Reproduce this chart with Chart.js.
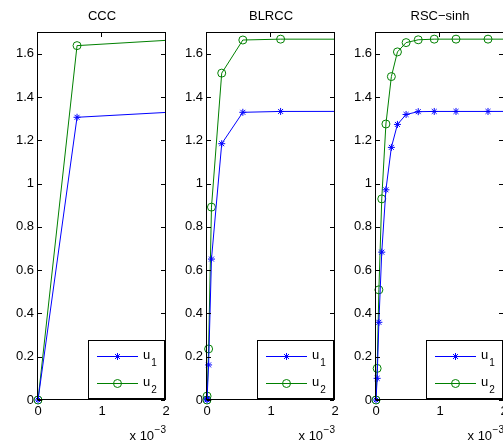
<!DOCTYPE html>
<html><head><meta charset="utf-8">
<script src="https://cdn.jsdelivr.net/npm/chart.js@4/dist/chart.umd.min.js"></script>
<style>
html,body{margin:0;padding:0;background:#fff;overflow:hidden;width:503px;height:446px;}
canvas{position:absolute;top:0;}
</style></head><body>
<canvas id="c0" width="180" height="446" style="left:0px"></canvas>
<canvas id="c1" width="180" height="446" style="left:169px"></canvas>
<canvas id="c2" width="180" height="446" style="left:338px"></canvas>
<script>
// ---- data ----
const titles = ['CCC', 'BLRCC', 'RSC\u2212sinh'];

const cccT  = [0, 0.00061, 0.0023];
const cccU1 = [0, 1.306, 1.3333];
const cccU2 = [0, 1.637, 1.6667];

const blrccT  = [0, 0.000001, 0.000025, 0.00007, 0.00023, 0.00056, 0.00115, 0.0023];
const blrccU1 = [0, 0.005, 0.162, 0.651, 1.184, 1.329, 1.333, 1.3333];
const blrccU2 = [0, 0.018, 0.236, 0.891, 1.51, 1.663, 1.667, 1.6667];

const sinhT  = [0, 0.000018, 0.000045, 0.00009, 0.000155, 0.00024, 0.000335, 0.00047, 0.00066, 0.00091, 0.00125, 0.00175, 0.0024];
const sinhU1 = [0, 0.10, 0.359, 0.683, 0.971, 1.167, 1.273, 1.319, 1.332, 1.333, 1.333, 1.333, 1.3333];
const sinhU2 = [0, 0.146, 0.509, 0.929, 1.275, 1.494, 1.608, 1.651, 1.664, 1.667, 1.667, 1.667, 1.6667];

const xTicks = [0, 0.001, 0.002];
const xTickLabels = ['0', '1', '2'];
const yTicks = [0, 0.2, 0.4, 0.6, 0.8, 1, 1.2, 1.4, 1.6];
const yTickLabels = ['0', '0.2', '0.4', '0.6', '0.8', '1', '1.2', '1.4', '1.6'];
const xExponentBase = 'x 10';
const xExponent = '\u22123';
const legendNames = ['u', 'u'];
const legendSubs = ['1', '2'];

const FONT = '"Liberation Sans", Arial, Helvetica, sans-serif';
const FS = 13;
const BLUE = '#0000ff', GREEN = '#008000';
const styles = [
  {color: BLUE, pointStyle: 'star', radius: 3.5},
  {color: GREEN, pointStyle: 'circle', radius: 4}
];

const frame = {
  id: 'frame',
  afterDatasetsDraw(chart) {
    const {ctx, chartArea: a, scales: {x, y}} = chart;
    const title = chart.options.plugins.frame.title;
    ctx.save();
    ctx.strokeStyle = '#000';
    ctx.lineWidth = 1;
    ctx.strokeRect(a.left - 0.5, a.top + 0.5, a.right - a.left, a.bottom - a.top - 1);
    ctx.beginPath();
    yTicks.forEach(v => {
      const py = Math.round(y.getPixelForValue(v)) + 0.5;
      ctx.moveTo(a.left, py); ctx.lineTo(a.left + 4, py);
      ctx.moveTo(a.right - 1, py); ctx.lineTo(a.right - 5, py);
    });
    xTicks.forEach(v => {
      const px = Math.round(x.getPixelForValue(v)) - 0.5;
      ctx.moveTo(px, a.bottom - 1); ctx.lineTo(px, a.bottom - 5);
      ctx.moveTo(px, a.top + 1); ctx.lineTo(px, a.top + 5);
    });
    ctx.stroke();

    // legend
    const bx0 = a.right - 78, bx1 = a.right - 2, by0 = a.bottom - 60, by1 = a.bottom - 2;
    ctx.fillStyle = '#fff';
    ctx.fillRect(bx0, by0, bx1 - bx0, by1 - by0);
    ctx.strokeStyle = '#000';
    ctx.strokeRect(bx0 + 0.5, by0 + 0.5, bx1 - bx0, by1 - by0);
    for (let i = 0; i < 2; i++) {
      const st = styles[i];
      const yy = Math.round(by0 + 16 + i * 26.5) + 0.5;
      ctx.strokeStyle = st.color;
      ctx.lineWidth = 1;
      ctx.beginPath(); ctx.moveTo(bx0 + 9, yy); ctx.lineTo(bx0 + 50, yy); ctx.stroke();
      ctx.fillStyle = 'rgba(0,0,0,0)';
      Chart.helpers.drawPoint(ctx, {pointStyle: st.pointStyle, radius: st.radius, borderWidth: 1, rotation: 0}, bx0 + 29.5, yy);
      ctx.fillStyle = '#000';
      ctx.textAlign = 'left';
      ctx.textBaseline = 'alphabetic';
      ctx.font = FS + 'px ' + FONT;
      ctx.fillText(legendNames[i], bx0 + 55, yy + 2.5);
      const w = ctx.measureText(legendNames[i]).width;
      ctx.font = '10px ' + FONT;
      ctx.fillText(legendSubs[i], bx0 + 55 + w + 1, yy + 9);
    }

    // title
    ctx.fillStyle = '#000';
    ctx.font = FS + 'px ' + FONT;
    ctx.textAlign = 'center';
    ctx.textBaseline = 'middle';
    ctx.fillText(title, (a.left + a.right) / 2, 16.5);

    // exponent label
    ctx.textAlign = 'right';
    ctx.textBaseline = 'alphabetic';
    ctx.font = '10px ' + FONT;
    ctx.fillText(xExponent, a.right, 433);
    const ew = ctx.measureText(xExponent).width;
    ctx.font = FS + 'px ' + FONT;
    ctx.fillText(xExponentBase, a.right - ew - 0.5, 440);
    ctx.restore();
  }
};

function makeChart(id, title, t, u1, u2) {
  const series = [u1, u2];
  new Chart(document.getElementById(id), {
    type: 'scatter',
    data: {
      datasets: series.map((s, k) => ({
        label: legendNames[k] + legendSubs[k],
        data: t.map((v, i) => ({x: v, y: s[i]})),
        showLine: true,
        borderColor: styles[k].color,
        borderWidth: 1,
        pointStyle: styles[k].pointStyle,
        pointRadius: styles[k].radius,
        pointBorderWidth: 1,
        pointBorderColor: styles[k].color,
        pointBackgroundColor: 'rgba(0,0,0,0)',
        tension: 0,
        clip: {left: 6, top: 0, right: 0, bottom: 6}
      }))
    },
    options: {
      responsive: false,
      animation: false,
      devicePixelRatio: 1,
      events: [],
      layout: {padding: {left: 0, right: 14, top: 32, bottom: 0}},
      plugins: {legend: {display: false}, tooltip: {enabled: false}, title: {display: false}, frame: {title: title}},
      scales: {
        x: {
          type: 'linear', min: 0, max: 0.002,
          afterBuildTicks: s => { s.ticks = xTicks.map(v => ({value: v})); },
          afterFit: s => { s.height = 46; },
          grid: {display: false, drawTicks: false},
          border: {display: false},
          ticks: {padding: 4, color: '#000', font: {family: FONT, size: FS}, maxRotation: 0, autoSkip: false,
                  callback: (v, i) => xTickLabels[i]}
        },
        y: {
          type: 'linear', min: 0, max: 1.7,
          afterBuildTicks: s => { s.ticks = yTicks.map(v => ({value: v})); },
          afterFit: s => { s.width = 38; },
          grid: {display: false, drawTicks: false},
          border: {display: false},
          ticks: {padding: 4, color: '#000', font: {family: FONT, size: FS}, autoSkip: false,
                  callback: (v, i) => yTickLabels[i]}
        }
      }
    },
    plugins: [frame]
  });
}

makeChart('c0', titles[0], cccT, cccU1, cccU2);
makeChart('c1', titles[1], blrccT, blrccU1, blrccU2);
makeChart('c2', titles[2], sinhT, sinhU1, sinhU2);
</script>
</body></html>
